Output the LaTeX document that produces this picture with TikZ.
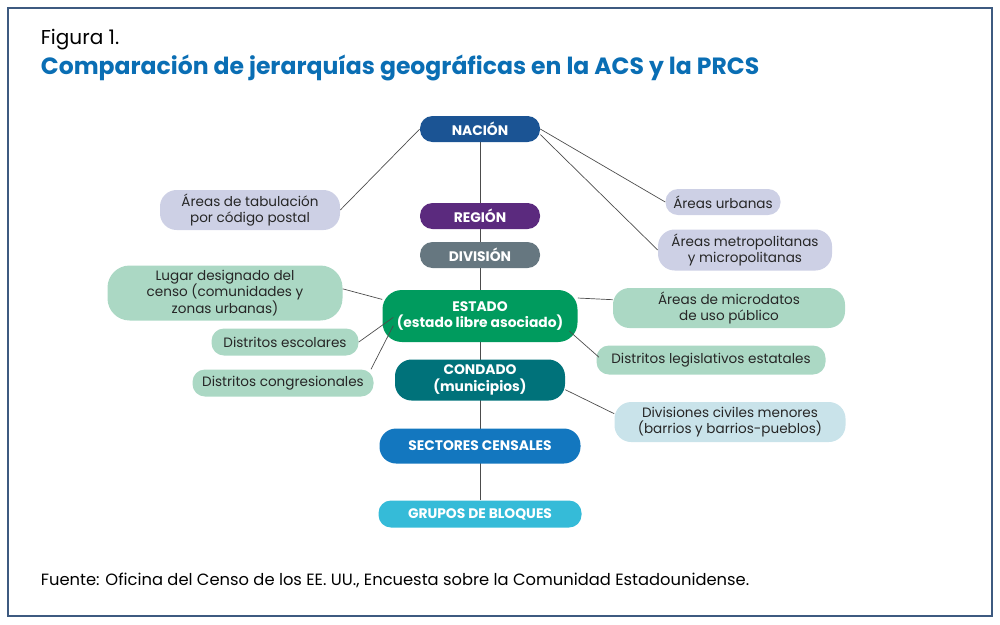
\documentclass[tikz,border=0pt]{standalone}
\usepackage{fontspec}
\setmainfont{Poppins}
\usetikzlibrary{positioning}
\definecolor{cNacion}{HTML}{1B5494}
\definecolor{cRegion}{HTML}{5B2A7E}
\definecolor{cDivision}{HTML}{667780}
\definecolor{cEstado}{HTML}{009B5E}
\definecolor{cCondado}{HTML}{00727A}
\definecolor{cSector}{HTML}{1377BF}
\definecolor{cGrupo}{HTML}{35BBD8}
\definecolor{cLav}{HTML}{CDD0E5}
\definecolor{cMint}{HTML}{ABD8C4}
\definecolor{cSky}{HTML}{C9E3EA}
\definecolor{cTitle}{HTML}{0A6EB4}
\definecolor{cFrame}{HTML}{3D5A80}
\newdimen\pxu \pxu=0.0254cm
\tikzset{
  lvl/.style={rounded corners=9pt, text=white, font=\fontsize{10}{12}\selectfont\bfseries, align=center, inner sep=0pt},
  side/.style={rounded corners=9pt, text=black!85, font=\fontsize{9.8}{12}\selectfont, align=center, inner sep=0pt},
  link/.style={draw=black!70, line width=0.5pt}
}
\begin{document}
\begin{tikzpicture}[x=0.0254cm, y=-0.0254cm]
\useasboundingbox (0,0) rectangle (1000,624);
\draw[cFrame, line width=0.8pt] (8,8) rectangle (992,616);

\node[anchor=west, font=\fontsize{14.5}{18}\selectfont] (fig) at (36,40) {Figura 1.};
\node[anchor=west, font=\fontsize{17}{20}\selectfont\bfseries, text=cTitle] (title) at (36,68) {Comparación de jerarquías geográficas en la ACS y la PRCS};
\node[anchor=west, font=\fontsize{11.8}{14}\selectfont] (src) at (36,580) {Fuente: Oficina del Censo de los EE. UU., Encuesta sobre la Comunidad Estadounidense.};

% vertical spine
\draw[link] (480,142) -- (480,500);

% main levels
\node[lvl, fill=cNacion, minimum width=120\pxu, minimum height=26\pxu] (nacion) at (480,129) {NACIÓN};
\node[lvl, fill=cRegion, minimum width=120\pxu, minimum height=26\pxu] (region) at (480,216) {REGIÓN};
\node[lvl, fill=cDivision, minimum width=120\pxu, minimum height=26\pxu] (division) at (480,255) {DIVISIÓN};
\node[lvl, fill=cEstado, minimum width=195\pxu, minimum height=52\pxu, rounded corners=14pt] (estado) at (480,316) {ESTADO\\(estado libre asociado)};
\node[lvl, fill=cCondado, minimum width=170\pxu, minimum height=41\pxu, rounded corners=12pt] (condado) at (480,380) {CONDADO\\(municipios)};
\node[lvl, fill=cSector, minimum width=201\pxu, minimum height=35\pxu, rounded corners=12pt] (sector) at (480,446) {SECTORES CENSALES};
\node[lvl, fill=cGrupo, minimum width=203\pxu, minimum height=27\pxu] (grupo) at (480,514) {GRUPOS DE BLOQUES};

% left side
\node[side, fill=cLav, minimum width=180\pxu, minimum height=40\pxu, rounded corners=12pt] (zcta) at (250,210) {Áreas de tabulación\\por código postal};
\node[side, fill=cMint, minimum width=235\pxu, minimum height=55\pxu, rounded corners=16pt] (lugar) at (225,293) {Lugar designado del\\censo (comunidades y\\zonas urbanas)};
\node[side, fill=cMint, minimum width=147\pxu, minimum height=27\pxu] (escolar) at (285,342) {Distritos escolares};
\node[side, fill=cMint, minimum width=181\pxu, minimum height=27\pxu] (congreso) at (283,383) {Distritos congresionales};

% right side
\node[side, fill=cLav, minimum width=115\pxu, minimum height=26\pxu] (urbana) at (723,202) {Áreas urbanas};
\node[side, fill=cLav, minimum width=174\pxu, minimum height=41\pxu, rounded corners=12pt] (metro) at (745,250) {Áreas metropolitanas\\y micropolitanas};
\node[side, fill=cMint, minimum width=232\pxu, minimum height=40\pxu, rounded corners=12pt] (micro) at (729,308) {Áreas de microdatos\\de uso público};
\node[side, fill=cMint, minimum width=229\pxu, minimum height=29\pxu] (legis) at (711,360) {Distritos legislativos estatales};
\node[side, fill=cSky, minimum width=231\pxu, minimum height=40\pxu, rounded corners=12pt] (civil) at (730,422) {Divisiones civiles menores\\(barrios y barrios-pueblos)};

% connectors
\draw[link] (nacion.west) -- (zcta.east);
\draw[link] (nacion.east) -- (urbana.west);
\draw[link] ([yshift=-4]nacion.east) -- (metro.west);
\draw[link] ([yshift=12]estado.west) -- ([yshift=3]lugar.east);
\draw[link] ([xshift=8,yshift=-1]estado.west) -- (escolar.east);
\draw[link] ([xshift=8,yshift=12]estado.south west) -- ([xshift=-2]congreso.north east);
\draw[link] ([yshift=13]estado.east) -- ([yshift=6]micro.west);
\draw[link] ([xshift=-6,yshift=8]estado.south east) -- ([xshift=2,yshift=2]legis.west);
\draw[link] ([yshift=-7]condado.east) -- ([yshift=6]civil.west);
\end{tikzpicture}
\end{document}
